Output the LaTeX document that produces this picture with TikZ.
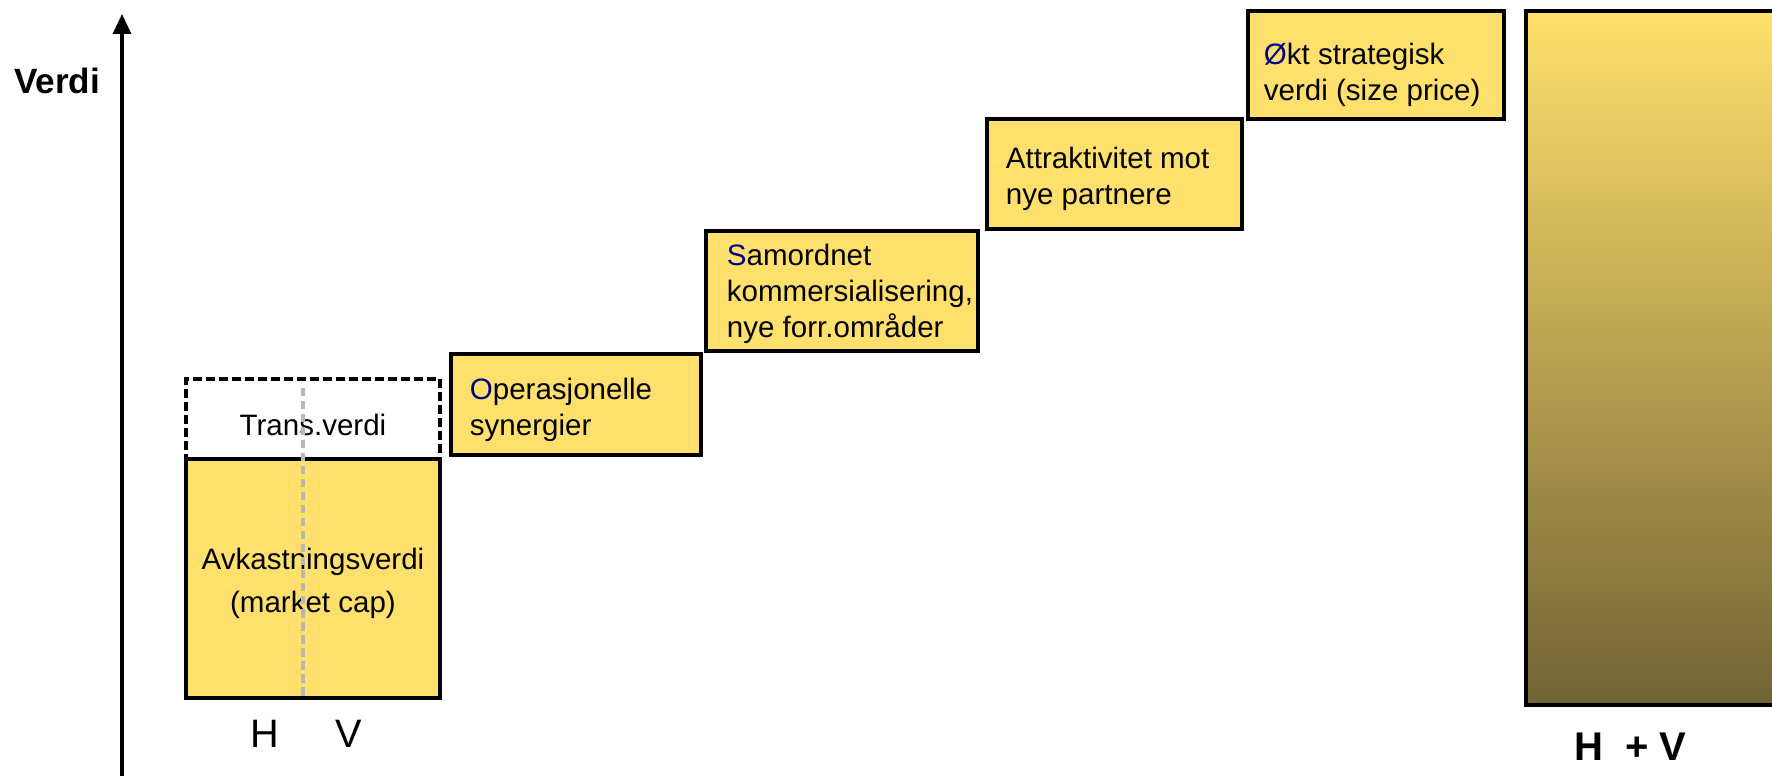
\documentclass[tikz,border=0pt]{standalone}
\usepackage{fontspec}
\setmainfont{Liberation Sans}
\usetikzlibrary{positioning,arrows.meta}
\definecolor{boxyellow}{HTML}{FFE06C}
\definecolor{midgold}{HTML}{C4AD58}
\definecolor{darkgold}{HTML}{726334}
\definecolor{firstblue}{HTML}{000080}

\begin{document}
\begin{tikzpicture}[stepbox/.style={draw,line width=1pt,fill=boxyellow,inner sep=0pt},
    boxtext/.style={inner sep=0pt,align=left,font=\fontsize{8.4}{10.2}\selectfont},
    axislabel/.style={font=\fontsize{10}{12}\selectfont\bfseries}]
      \useasboundingbox (0,0) rectangle (17.72,7.76);
      % value axis
      \coordinate (foot) at (1.22,0);
      \coordinate (top) at (1.22,7.62);
      \draw[line width=0.9pt,-{Triangle[length=0.2cm,width=0.18cm]}] (foot) -- (top);
      \node[axislabel](verdi) at (0.57,6.95){Verdi};

      % H and V today
      \node[draw,dash pattern=on 2.4pt off 1.3pt,line width=0.9pt,minimum width=2.54cm,minimum height=0.8cm,inner sep=0pt](trans) at (3.13,3.57){};
      \node[boxtext](transtext) at (3.13,3.51){Trans.verdi};
      \node[stepbox,minimum width=2.54cm,minimum height=2.39cm](avk) at (3.13,1.975){};
      \node[boxtext,align=center,font=\fontsize{8.4}{12.2}\selectfont](avktext) at (3.13,1.925){Avkastningsverdi\\(market cap)};
      \coordinate (splittop) at (3.03,3.88);
      \coordinate (splitfoot) at (3.03,0.78);
      \draw[black!28,line width=0.9pt,dash pattern=on 2.4pt off 1.3pt] (splittop) -- (splitfoot);
      \node[font=\fontsize{11.3}{13}\selectfont](h) at (2.65,0.42){H};
      \node[font=\fontsize{11.3}{13}\selectfont](v) at (3.49,0.42){V};

      % steps
      \node[stepbox,minimum width=2.50cm,minimum height=1.01cm](ops) at (5.76,3.715){};
      \node[boxtext,right=0.2cm of ops.west,yshift=-0.05cm](opstext){{\color{firstblue}O}perasjonelle\\synergier};
      \node[stepbox,minimum width=2.72cm,minimum height=1.20cm](sam) at (8.42,4.85){};
      \node[boxtext,right=0.22cm of sam.west,yshift=-0.03cm](samtext){{\color{firstblue}S}amordnet\\kommersialisering,\\nye forr.områder};
      \node[stepbox,minimum width=2.55cm,minimum height=1.10cm](att) at (11.145,6.02){};
      \node[boxtext,right=0.2cm of att.west,yshift=-0.045cm](atttext){Attraktivitet mot\\nye partnere};
      \node[stepbox,minimum width=2.56cm,minimum height=1.08cm](okt) at (13.76,7.11){};
      \node[boxtext,right=0.17cm of okt.west,yshift=-0.1cm](okttext){{\color{firstblue}Ø}kt strategisk\\verdi (size price)};

      % H + V together
      \node[draw,line width=1pt,top color=boxyellow,middle color=midgold,bottom color=darkgold,minimum width=2.7cm,minimum height=6.94cm,inner sep=0pt,anchor=north west](hv) at (15.24,7.67){};
      \node[axislabel,font=\fontsize{11.4}{13}\selectfont\bfseries](hvtext) at (16.305,0.295){H\ \ + V};
    \end{tikzpicture}
\end{document}
